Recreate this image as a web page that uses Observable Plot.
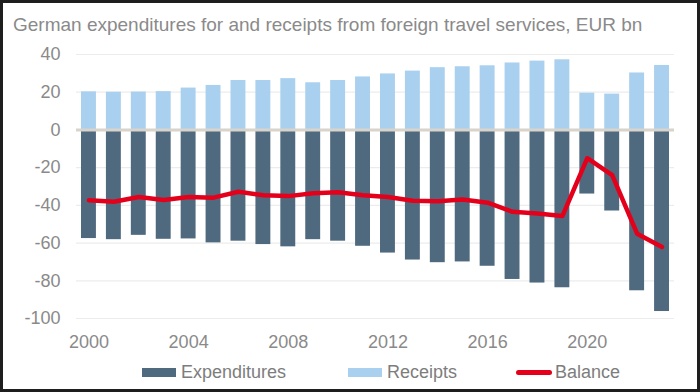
<!DOCTYPE html>
<html>
<head>
<meta charset="utf-8">
<script src="https://cdn.jsdelivr.net/npm/d3@7"></script>
<script src="https://cdn.jsdelivr.net/npm/@observablehq/plot@0.6"></script>
<style>
  html, body { margin: 0; padding: 0; background: #1e1e1e; width: 700px; height: 392px; overflow: hidden; }
  #card { position: absolute; left: 3px; top: 3px; width: 694px; height: 386px; background: #fff; font-family: "Liberation Sans", Arial, sans-serif; }
  #title { position: absolute; left: 10px; top: 12px; font-size: 19px; color: #8a8a8a; white-space: nowrap; line-height: 1; }
  #chart { position: absolute; left: 0; top: 37px; }
  .leg { position: absolute; top: 359px; font-size: 18px; color: #7d7d7d; line-height: 20px; white-space: nowrap; }
  .sw { position: absolute; }
</style>
</head>
<body>
<div id="card">
  <div id="title">German expenditures for and receipts from foreign travel services, EUR bn</div>
  <div id="chart"></div>
  <div class="sw" style="left:139px; top:365px; width:34px; height:9px; background:#4f6a7f;"></div>
  <div class="leg" style="left:178px;">Expenditures</div>
  <div class="sw" style="left:345px; top:365px; width:34px; height:9px; background:#a9d0ee;"></div>
  <div class="leg" style="left:384px;">Receipts</div>
  <div class="sw" style="left:513px; top:367px; width:36px; height:5px; background:#e4001b; border-radius:3px;"></div>
  <div class="leg" style="left:552px;">Balance</div>
</div>
<script>
const years = [2000,2001,2002,2003,2004,2005,2006,2007,2008,2009,2010,2011,2012,2013,2014,2015,2016,2017,2018,2019,2020,2021,2022,2023];
const receipts = [20.2,20.0,20.1,20.3,22.2,23.6,26.2,26.2,27.2,25.0,26.2,28.1,29.7,31.2,33.0,33.5,34.0,35.5,36.5,37.2,19.5,19.0,30.2,34.2];
const expenditures = [-57.6,-58.2,-55.9,-58.0,-57.8,-59.9,-59.0,-60.8,-62.0,-58.2,-59.0,-61.7,-65.3,-69.0,-70.4,-70.0,-72.3,-79.3,-81.2,-83.7,-34.0,-43.0,-85.3,-96.3];
const balance = [-37.3,-38.1,-35.6,-37.2,-35.6,-35.9,-32.8,-34.6,-35.1,-33.6,-33.0,-34.6,-35.6,-37.6,-37.8,-36.9,-38.6,-43.4,-44.3,-45.7,-15.0,-24.0,-55.0,-62.1];
const yTicks = [40,20,0,-20,-40,-60,-80,-100];
const xTicks = [2000,2004,2008,2012,2016,2020];

const rows = years.map((year, i) => ({year, receipts: receipts[i], expenditures: expenditures[i], balance: balance[i]}));

const chart = Plot.plot({
  width: 694,
  height: 315,
  marginTop: 14,
  marginBottom: 37,
  marginLeft: 73,
  marginRight: 23,
  style: {fontFamily: "'Liberation Sans', Arial, sans-serif", fontSize: "18px", color: "#8a8a8a", background: "transparent"},
  x: {domain: [1999.5, 2023.5], ticks: xTicks, tickFormat: d => String(d), tickSize: 0, tickPadding: 17, label: null},
  y: {domain: [-100, 40], ticks: yTicks, tickFormat: d => String(d), tickSize: 0, tickPadding: 16, label: null},
  marks: [
    Plot.ruleY(yTicks.filter(d => d !== 0), {stroke: "#ececec", strokeWidth: 1.2}),
    Plot.rectY(rows, {x1: d => d.year - 0.5, x2: d => d.year + 0.5, y1: 0, y2: "receipts", fill: "#a9d0ee", insetLeft: 5, insetRight: 5}),
    Plot.rectY(rows, {x1: d => d.year - 0.5, x2: d => d.year + 0.5, y1: 0, y2: "expenditures", fill: "#4f6a7f", insetLeft: 5, insetRight: 5}),
    Plot.ruleY([0], {stroke: "#d8d3cb", strokeWidth: 3}),
    Plot.line(rows, {x: "year", y: "balance", stroke: "#e4001b", strokeWidth: 4.5, strokeLinejoin: "round", strokeLinecap: "round"})
  ]
});
document.getElementById("chart").appendChild(chart);
</script>
</body>
</html>
